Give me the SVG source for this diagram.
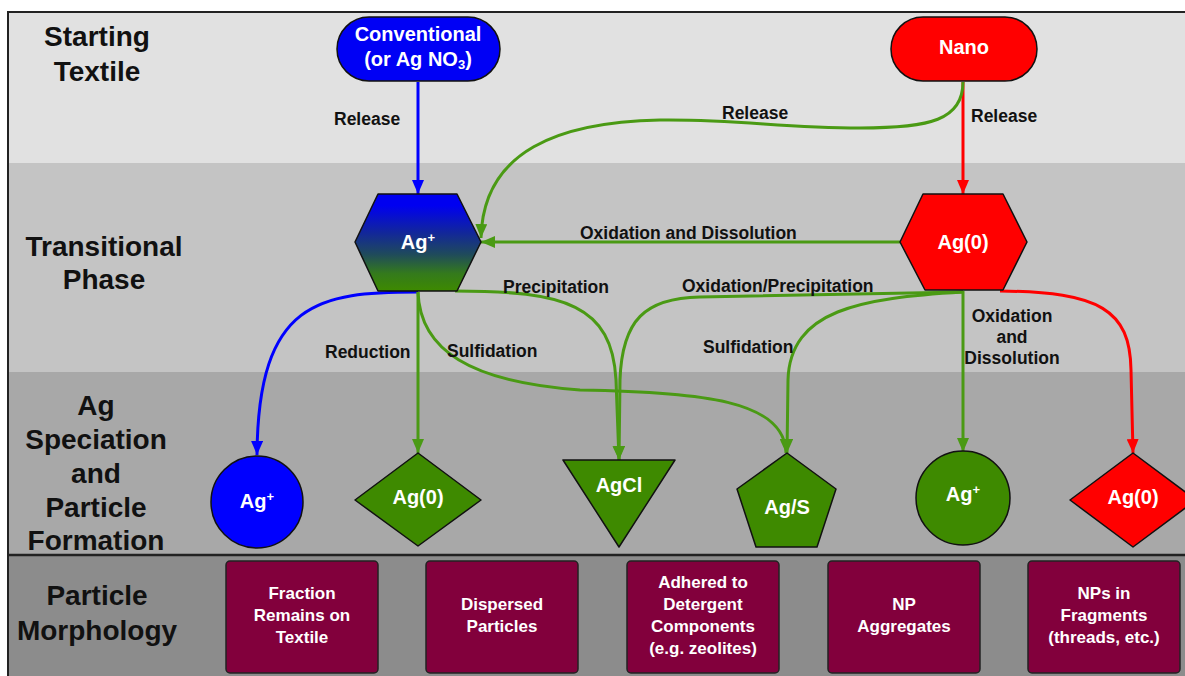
<svg xmlns="http://www.w3.org/2000/svg" width="1185" height="676" viewBox="0 0 1185 676">
<defs>
<style>
.band{font:bold 28px "Liberation Sans",Arial,sans-serif;fill:#111;text-anchor:middle}
.nt{font:bold 20px "Liberation Sans",Arial,sans-serif;fill:#fff;text-anchor:middle}
.el{font:bold 17.5px "Liberation Sans",Arial,sans-serif;fill:#111}
.bt{font:bold 17px "Liberation Sans",Arial,sans-serif;fill:#fff;text-anchor:middle}
.shape{stroke:#111;stroke-width:1.5;stroke-linejoin:round}
.box{fill:#82003c;stroke:#222;stroke-width:1.5}
.c{fill:none;stroke-width:3}
.g{stroke:#4a9a14}
.b{stroke:#0000ff}
.r{stroke:#ff0000}
.gf{fill:#3e8a00}
</style>
<linearGradient id="hexgrad" x1="0" y1="0" x2="0" y2="1">
<stop offset="0.12" stop-color="#0000f0"/>
<stop offset="0.4" stop-color="#12279a"/>
<stop offset="0.62" stop-color="#1f4a5c"/>
<stop offset="0.82" stop-color="#347a1c"/>
<stop offset="1" stop-color="#3e8a00"/>
</linearGradient>
<marker id="ag" markerUnits="userSpaceOnUse" markerWidth="14" markerHeight="12" refX="14" refY="6" orient="auto"><path d="M0,0 L14,6 L0,12 z" fill="#4a9a14"/></marker>
<marker id="ab" markerUnits="userSpaceOnUse" markerWidth="14" markerHeight="12" refX="14" refY="6" orient="auto"><path d="M0,0 L14,6 L0,12 z" fill="#0000ff"/></marker>
<marker id="ar" markerUnits="userSpaceOnUse" markerWidth="14" markerHeight="12" refX="14" refY="6" orient="auto"><path d="M0,0 L14,6 L0,12 z" fill="#ff0000"/></marker>
</defs>

<g id="background">
<rect x="0" y="0" width="1185" height="676" fill="#ffffff"/>
<rect x="8" y="12" width="1177" height="151" fill="#e1e1e1"/>
<rect x="8" y="163" width="1177" height="209" fill="#c4c4c4"/>
<rect x="8" y="372" width="1177" height="183" fill="#a8a8a8"/>
<rect x="8" y="555" width="1177" height="121" fill="#8c8c8c"/>
<path d="M8,676 L8,12 L1185,12" fill="none" stroke="#222" stroke-width="2"/>
<line x1="8" y1="555" x2="1185" y2="555" stroke="#222" stroke-width="2.5"/>
</g>

<g id="band-labels">
<text class="band" x="97" y="46">Starting</text>
<text class="band" x="97" y="81">Textile</text>
<text class="band" x="104" y="256">Transitional</text>
<text class="band" x="104" y="289">Phase</text>
<text class="band" x="96" y="415">Ag</text>
<text class="band" x="96" y="449">Speciation</text>
<text class="band" x="96" y="483">and</text>
<text class="band" x="96" y="517">Particle</text>
<text class="band" x="96" y="550">Formation</text>
<text class="band" x="97" y="605">Particle</text>
<text class="band" x="97" y="640">Morphology</text>
</g>

<g id="connectors">
<path class="c b" d="M418,82 L418,194" marker-end="url(#ab)"/>
<path class="c r" d="M963,82 L963,194" marker-end="url(#ar)"/>
<path class="c g" d="M963,82 C963,120 930,128 860,128 C780,128 740,119 660,120 C560,122 483,150 481,238" marker-end="url(#ag)"/>
<path class="c g" d="M900,242 L481,242" marker-end="url(#ag)"/>
<path class="c b" d="M418,292 C320,292 258,300 257,455" marker-end="url(#ab)"/>
<path class="c g" d="M418,292 L418,453" marker-end="url(#ag)"/>
<path class="c g" d="M418,292 C420,350 470,382 580,390 C700,392 785,400 786,453" marker-end="url(#ag)"/>
<path class="c g" d="M455,291 C565,291 612,305 616,380 L619,460" marker-end="url(#ag)"/>
<path class="c g" d="M963,292 L700,297 C645,298 622,320 620,380 L619,460" marker-end="url(#ag)"/>
<path class="c g" d="M963,292 C860,298 790,310 788,380 L787,453" marker-end="url(#ag)"/>
<path class="c g" d="M963,291 L963,452" marker-end="url(#ag)"/>
<path class="c r" d="M1000,291 C1100,292 1130,310 1131,370 L1133,453" marker-end="url(#ar)"/>
</g>

<g id="edge-labels">
<text class="el" x="334" y="125">Release</text>
<text class="el" x="722" y="119">Release</text>
<text class="el" x="971" y="122">Release</text>
<text class="el" x="580" y="239">Oxidation and Dissolution</text>
<text class="el" x="503" y="293">Precipitation</text>
<text class="el" x="682" y="292">Oxidation/Precipitation</text>
<text class="el" x="325" y="358">Reduction</text>
<text class="el" x="447" y="357">Sulfidation</text>
<text class="el" x="703" y="353">Sulfidation</text>
<text class="el" x="1012" y="322" text-anchor="middle">Oxidation</text>
<text class="el" x="1012" y="343" text-anchor="middle">and</text>
<text class="el" x="1012" y="364" text-anchor="middle">Dissolution</text>
</g>

<g id="node-conventional">
<rect class="shape" x="337" y="17" width="163" height="64" rx="32" fill="#0000f5"/>
<text class="nt" x="418" y="41">Conventional</text>
<text class="nt" x="418" y="66">(or Ag NO<tspan baseline-shift="-3" font-size="13">3</tspan>)</text>
</g>

<g id="node-nano">
<rect class="shape" x="891" y="17" width="146" height="64" rx="32" fill="#ff0000"/>
<text class="nt" x="964" y="54">Nano</text>
</g>

<g id="node-agplus-transition">
<polygon class="shape" points="378,194 457,194 481,242 457,291 378,291 355,242" fill="url(#hexgrad)"/>
<text class="nt" x="418" y="249">Ag<tspan baseline-shift="super" font-size="13">+</tspan></text>
</g>

<g id="node-ag0-transition">
<polygon class="shape" points="923,194 1003,194 1027,242 1003,290 925,290 900,242" fill="#ff0000"/>
<text class="nt" x="963" y="249">Ag(0)</text>
</g>

<g id="node-agplus-blue">
<circle class="shape" cx="257" cy="502" r="46" fill="#0000ff"/>
<text class="nt" x="257" y="508">Ag<tspan baseline-shift="super" font-size="13">+</tspan></text>
</g>

<g id="node-ag0-green">
<polygon class="shape gf" points="418,453 481,500 418,546 355,500"/>
<text class="nt" x="418" y="504">Ag(0)</text>
</g>

<g id="node-agcl">
<polygon class="shape gf" points="563,460 675,460 619,547"/>
<text class="nt" x="619" y="492">AgCl</text>
</g>

<g id="node-ags">
<polygon class="shape gf" points="787,453 836,489 817,547 756,547 737,489"/>
<text class="nt" x="787" y="514">Ag/S</text>
</g>

<g id="node-agplus-green">
<circle class="shape gf" cx="963" cy="498" r="47"/>
<text class="nt" x="963" y="501">Ag<tspan baseline-shift="super" font-size="13">+</tspan></text>
</g>

<g id="node-ag0-red">
<polygon class="shape" points="1133,453 1196,500 1133,547 1070,500" fill="#ff0000"/>
<text class="nt" x="1133" y="504">Ag(0)</text>
</g>

<g id="box-fraction">
<rect class="box" x="226" y="561" width="152" height="112" rx="4"/>
<text class="bt" x="302" y="599">Fraction</text>
<text class="bt" x="302" y="621">Remains on</text>
<text class="bt" x="302" y="643">Textile</text>
</g>

<g id="box-dispersed">
<rect class="box" x="426" y="561" width="152" height="112" rx="4"/>
<text class="bt" x="502" y="610">Dispersed</text>
<text class="bt" x="502" y="632">Particles</text>
</g>

<g id="box-adhered">
<rect class="box" x="627" y="561" width="152" height="112" rx="4"/>
<text class="bt" x="703" y="588">Adhered to</text>
<text class="bt" x="703" y="610">Detergent</text>
<text class="bt" x="703" y="632">Components</text>
<text class="bt" x="703" y="654">(e.g. zeolites)</text>
</g>

<g id="box-aggregates">
<rect class="box" x="828" y="561" width="152" height="112" rx="4"/>
<text class="bt" x="904" y="610">NP</text>
<text class="bt" x="904" y="632">Aggregates</text>
</g>

<g id="box-fragments">
<rect class="box" x="1028" y="561" width="152" height="112" rx="4"/>
<text class="bt" x="1104" y="599">NPs in</text>
<text class="bt" x="1104" y="621">Fragments</text>
<text class="bt" x="1104" y="643">(threads, etc.)</text>
</g>
</svg>
